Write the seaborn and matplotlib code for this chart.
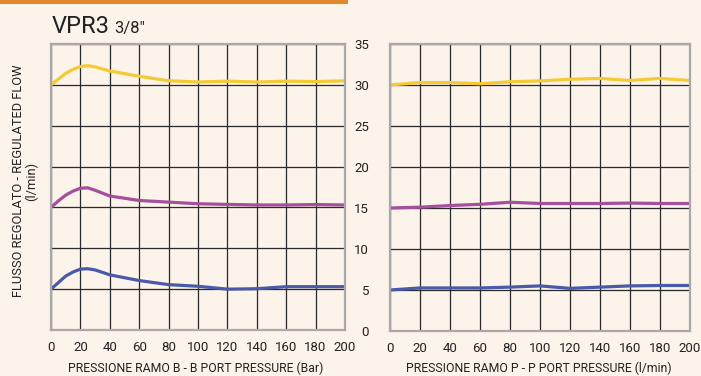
import matplotlib
matplotlib.use("Agg")
import matplotlib.pyplot as plt
from matplotlib.patches import Rectangle
import seaborn as sns
import pandas as pd

# ---- data ----
x_left = [0, 5, 10, 15, 20, 25, 30, 40, 60, 80, 100, 120, 140, 160, 180, 200]
yellow_left = [30.0, 30.7, 31.4, 31.9, 32.25, 32.35, 32.2, 31.7, 31.05, 30.5, 30.35, 30.45, 30.35, 30.45, 30.4, 30.5]
purple_left = [15.0, 15.8, 16.5, 17.0, 17.35, 17.4, 17.1, 16.4, 15.85, 15.65, 15.45, 15.37, 15.3, 15.3, 15.35, 15.3]
blue_left = [5.0, 5.8, 6.6, 7.1, 7.45, 7.5, 7.35, 6.75, 6.05, 5.55, 5.35, 5.0, 5.05, 5.3, 5.3, 5.3]

x_right = [0, 20, 40, 60, 80, 100, 120, 140, 160, 180, 200]
yellow_right = [30.0, 30.3, 30.3, 30.15, 30.4, 30.5, 30.7, 30.8, 30.55, 30.8, 30.55]
purple_right = [15.0, 15.1, 15.3, 15.45, 15.7, 15.55, 15.55, 15.55, 15.6, 15.55, 15.55]
blue_right = [5.0, 5.25, 5.25, 5.25, 5.35, 5.5, 5.2, 5.35, 5.5, 5.55, 5.55]

x_ticks = [0, 20, 40, 60, 80, 100, 120, 140, 160, 180, 200]
y_ticks = [0, 5, 10, 15, 20, 25, 30, 35]

title_main = "VPR3"
title_size = "3/8″"
xlabel_left = "PRESSIONE RAMO B - B PORT PRESSURE (Bar)"
xlabel_right = "PRESSIONE RAMO P - P PORT PRESSURE (l/min)"
ylabel = "FLUSSO REGOLATO - REGULATED FLOW\n(l/min)"

series_colors = {"high": "#F4CB35", "mid": "#A4509C", "low": "#4A5AA8"}

def long_df(x, hi, mid, lo):
    rows = []
    for name, ys in (("high", hi), ("mid", mid), ("low", lo)):
        for xi, yi in zip(x, ys):
            rows.append({"x": xi, "y": yi, "series": name})
    return pd.DataFrame(rows)

df_left = long_df(x_left, yellow_left, purple_left, blue_left)
df_right = long_df(x_right, yellow_right, purple_right, blue_right)

bg = "#FCF3EA"
sns.set_style("white", {"axes.facecolor": bg, "figure.facecolor": bg})
plt.rcParams["font.family"] = ["Roboto", "DejaVu Sans"]

W, H = 701, 376
fig = plt.figure(figsize=(W / 100, H / 100), dpi=100)
fig.patch.set_facecolor(bg)

def px_axes(x0, x1, y0, y1):
    return fig.add_axes([x0 / W, 1 - y1 / H, (x1 - x0) / W, (y1 - y0) / H])

ax1 = px_axes(51, 345, 44, 330)
ax2 = px_axes(390, 690, 44, 331)

for ax, df in ((ax1, df_left), (ax2, df_right)):
    ax.set_facecolor(bg)
    sns.lineplot(data=df, x="x", y="y", hue="series", palette=series_colors,
                 linewidth=2.3, ax=ax, legend=False, sort=True)
    ax.set_xlim(0, 200)
    ax.set_ylim(0, 35)
    ax.set_xticks(x_ticks)
    ax.set_yticks(y_ticks)
    ax.grid(True, color="#2a2a2a", linewidth=0.9)
    ax.set_axisbelow(True)
    for s in ax.spines.values():
        s.set_color("#A9A9A9")
        s.set_linewidth(1.6)
        s.set_zorder(3)
    ax.tick_params(axis="x", direction="out", length=3, width=0.8, color="#333333",
                   labelsize=9.5, labelcolor="#222222", pad=5)
    ax.set_xlabel("")
    ax.set_ylabel("")

ax1.tick_params(axis="y", left=False, labelleft=False)
ax2.tick_params(axis="y", direction="out", length=3, width=0.8, color="#333333",
                labelsize=9.5, labelcolor="#222222", pad=12)

fig.text(196 / W, 1 - 368 / H, xlabel_left, ha="center", va="center",
         fontsize=8.8, color="#222222")
fig.text(539 / W, 1 - 368 / H, xlabel_right, ha="center", va="center",
         fontsize=8.8, color="#222222")

fig.text(25 / W, 1 - 181 / H, ylabel, rotation=90, ha="center", va="center",
         fontsize=9.3, color="#222222", multialignment="center", linespacing=1.05)

# header
fig.patches.append(Rectangle((0, 1 - 4 / H), 348 / W, 4 / H, transform=fig.transFigure,
                             facecolor="#E0892C", edgecolor="none"))
fig.text(52 / W, 1 - 33 / H, title_main, fontsize=17, color="#222222", va="baseline")
fig.text(114 / W, 1 - 33 / H, title_size, fontsize=12, color="#222222", va="baseline")

fig.savefig("out.png", dpi=100, facecolor=bg)
